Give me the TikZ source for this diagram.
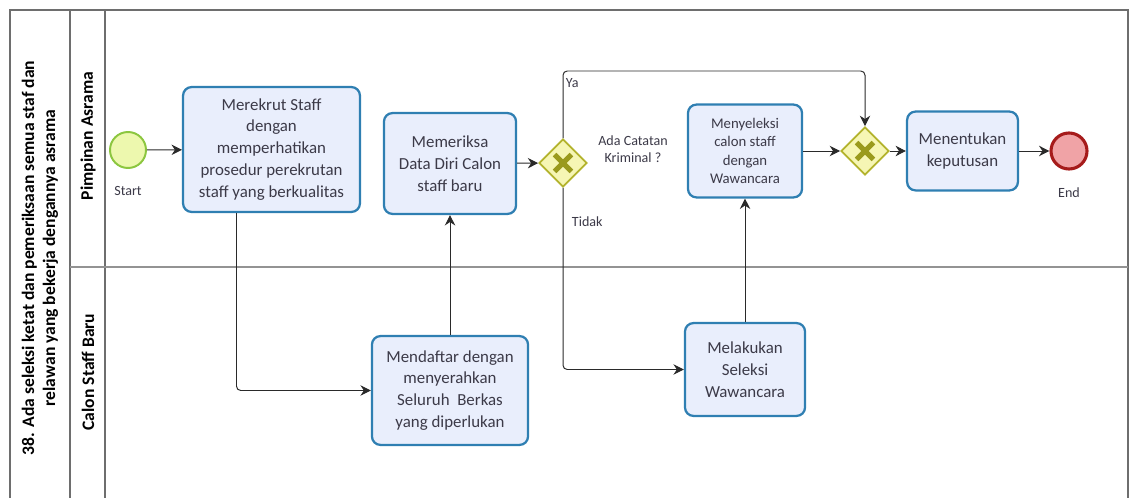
\documentclass[tikz,border=0pt]{standalone}
\usepackage{fontspec}
\setmainfont{Carlito}
\usepackage{xcolor}
\usepackage{tikz}
\usetikzlibrary{
  arrows.meta, positioning, calc, shapes.geometric
}
\definecolor{taskA}{HTML}{2F7FB2}
\definecolor{taskB}{HTML}{E9EEFC}
\definecolor{gateA}{HTML}{B3B32C}
\definecolor{gateB}{HTML}{F6F6B4}
\definecolor{gateX}{HTML}{9A9A1C}
\definecolor{startA}{HTML}{8CC63F}
\definecolor{startB}{HTML}{EDF8AE}
\definecolor{endA}{HTML}{A61B1B}
\definecolor{endB}{HTML}{F0A3A6}
\definecolor{textA}{HTML}{3C3A48}
\definecolor{lineA}{HTML}{2A2A2A}
\definecolor{poolA}{HTML}{6E6E6E}
\definecolor{laneA}{HTML}{939393}
\tikzset{
  task/.style={
    draw=taskA, fill=taskB, rounded corners=6pt,
    line width=1.6pt, align=center, inner sep=2pt,
    font=\fontsize{12}{15.6}\selectfont, text=textA
  },
  gate/.style={
    diamond, aspect=1, draw=gateA, fill=gateB,
    line width=1.3pt, minimum size=1.2cm, inner sep=0pt,
    path picture={
      \draw[gateX, line width=3.6pt]
        ($(path picture bounding box.center)+(-0.21cm,-0.21cm)$) --
        ($(path picture bounding box.center)+(0.21cm,0.21cm)$)
        ($(path picture bounding box.center)+(-0.21cm,0.21cm)$) --
        ($(path picture bounding box.center)+(0.21cm,-0.21cm)$);
    }
  },
  event/.style={
    circle, draw=#1A, fill=#1B, minimum size=0.9cm, inner sep=0pt
  },
  small/.style={font=\fontsize{10}{12.5}\selectfont, text=textA, align=center},
  lanelabel/.style={rotate=90, font=\fontsize{12.5}{15}\selectfont\bfseries, align=center},
  flow/.style={-{Stealth[length=2.6mm, width=2.6mm]}, line width=0.7pt, draw=lineA, rounded corners=3pt}
}

\begin{document}
\begin{tikzpicture}[x=0.025cm, y=-0.025cm]
  \useasboundingbox (0,0) rectangle (1130,498);
  % pool and lanes
  \draw[poolA, line width=0.9pt] (10,498) -- (10,10) -- (1128,10) -- (1128,498);
  \draw[poolA, line width=0.9pt] (70,10) -- (70,498);
  \draw[poolA, line width=0.9pt] (105,10) -- (105,498);
  \draw[laneA, line width=1.4pt] (70,267) -- (1128,267);
  \node[lanelabel] (pool) at (40,258) {38. Ada seleksi ketat dan pemeriksaan semua staf dan\\relawan yang bekerja dengannya asrama};
  \node[lanelabel] (pimpinan) at (88,136) {Pimpinan Asrama};
  \node[lanelabel] (calon) at (88,372) {Calon Staff Baru};

  % events and tasks
  \node[event=start, line width=1.4pt] (start) at (128,150) {};
  \node[small, below=0.3cm of start] (startlbl) {Start};
  \node[task, minimum width=4.42cm, minimum height=3.12cm] (rekrut) at (271.5,149.5) {
    Merekrut Staff\\dengan\\memperhatikan\\prosedur perekrutan\\staff yang berkualitas
  };
  \node[task, minimum width=3.3cm, minimum height=2.52cm] (periksa) at (450,163.5) {
    Memeriksa\\Data Diri Calon\\staff baru
  };
  \node[task, minimum width=3.9cm, minimum height=2.72cm] (daftar) at (450,390.5) {
    Mendaftar dengan\\menyerahkan\\Seluruh~ Berkas\\yang diperlukan
  };
  \node[gate] (kriminal) at (563,163) {};
  \node[small] (tanya) at (633,149) {Ada Catatan\\Kriminal ?};
  \node[task, minimum width=3.0cm, minimum height=2.32cm] (wawancara) at (745,369.5) {
    Melakukan\\Seleksi\\Wawancara
  };
  \node[task, minimum width=2.85cm, minimum height=2.32cm,
    font=\fontsize{10.5}{13}\selectfont] (seleksi) at (745,151) {
    Menyeleksi\\calon staff\\dengan\\Wawancara
  };
  \node[gate] (gabung) at (865,151) {};
  \node[task, minimum width=2.77cm, minimum height=1.97cm] (tentukan) at (962.5,151) {
    Menentukan\\keputusan
  };
  \node[event=end, line width=2.2pt] (end) at (1069,151) {};
  \node[small, below=0.3cm of end] (endlbl) {End};
  \coordinate (yatop) at (700,71);

  % flows
  \draw[flow] (start) -- (rekrut);
  \draw[flow] ($(rekrut.south)+(-35,0)$) |- (daftar.west);
  \draw[flow] (daftar) -- (periksa);
  \draw[flow] (periksa) -- (kriminal);
  \draw[flow] (kriminal.north) |- (yatop) -| (gabung.north);
  \draw[flow] (kriminal.south) |- (wawancara.west);
  \draw[flow] (wawancara) -- (seleksi);
  \draw[flow] (seleksi) -- (gabung);
  \draw[flow] (gabung) -- (tentukan);
  \draw[flow] (tentukan) -- (end);
  \node[small, anchor=west] (ya) at (561,83) {Ya};
  \node[small, anchor=west] (tidak) at (567,222) {Tidak};
\end{tikzpicture}
\end{document}
